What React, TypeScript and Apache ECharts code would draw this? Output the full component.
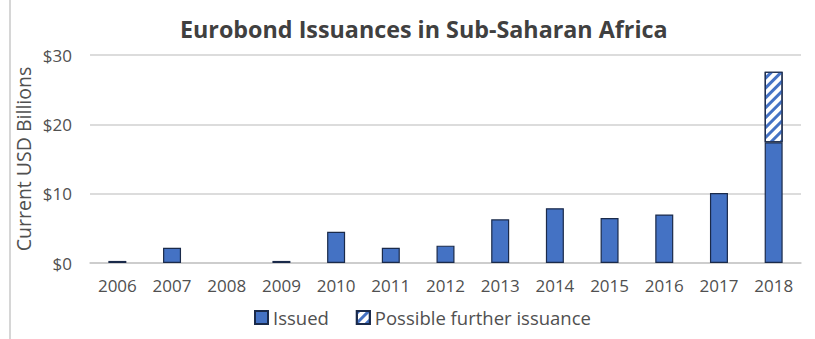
import React, { useEffect, useRef } from "react";
import * as echarts from "echarts";

const years = ["2006","2007","2008","2009","2010","2011","2012","2013","2014","2015","2016","2017","2018"];
const issued = [0.3, 2.2, null, 0.3, 4.5, 2.2, 2.5, 6.3, 7.9, 6.5, 7.0, 10.1, 17.4];
const further = [null, null, null, null, null, null, null, null, null, null, null, null, 10.2];
const yTicks = [0, 10, 20, 30];

export default function App() {
  const ref = useRef<HTMLDivElement>(null);
  useEffect(() => {
    const chart = echarts.init(ref.current!, null, { renderer: "svg" });
    const font = "'Open Sans', sans-serif";
    chart.setOption({
      animation: false,
      backgroundColor: "#fff",
      title: {
        text: "Eurobond Issuances in Sub-Saharan Africa",
        left: 180,
        top: 17,
        padding: 0,
        textStyle: { fontFamily: font, fontSize: 23.3, fontWeight: "bold", color: "#404040" },
      },
      graphic: [
        { type: "line", shape: { x1: 10, y1: 0, x2: 10, y2: 339 }, style: { stroke: "#c8c8c8", lineWidth: 1.5 } },
      ],
      legend: {
        bottom: 7,
        left: 249,
        itemWidth: 13,
        itemHeight: 13,
        itemGap: 27,
        icon: "rect",
        textStyle: { fontFamily: font, fontSize: 18.5, color: "#505050" },
        data: ["Issued", "Possible further issuance"],
      },
      grid: { left: 90, right: 14, top: 55, bottom: 76 },
      xAxis: {
        type: "category",
        data: years,
        axisTick: { show: false },
        axisLine: { lineStyle: { color: "#c8c8c8", width: 1.5 } },
        axisLabel: { fontFamily: font, fontSize: 17, color: "#505050", margin: 14 },
      },
      yAxis: {
        type: "value",
        min: 0,
        max: 30,
        interval: 10,
        name: "Current USD Billions",
        nameLocation: "middle",
        nameGap: 57,
        nameMoveOverlap: false,
        nameTextStyle: { fontFamily: font, fontSize: 19.5, color: "#505050" },
        axisLabel: {
          fontFamily: font,
          fontSize: 17,
          color: "#505050",
          margin: 18,
          formatter: (v: number) => (yTicks.includes(v) ? "$" + v : ""),
        },
        splitLine: { lineStyle: { color: "#d0d0d0", width: 1.5 } },
      },
      series: [
        {
          name: "Issued",
          type: "bar",
          stack: "total",
          barWidth: 18,
          data: issued,
          itemStyle: { color: "#4472c4", borderColor: "#1a2a4a", borderWidth: 1.2 },
        },
        {
          name: "Possible further issuance",
          type: "bar",
          stack: "total",
          barWidth: 18,
          data: further,
          itemStyle: {
            color: "#ffffff",
            borderColor: "#1a2a4a",
            borderWidth: 1.2,
            decal: {
              symbol: "rect",
              symbolSize: 1,
              color: "#4472c4",
              backgroundColor: "#ffffff",
              dashArrayX: [1, 0],
              dashArrayY: [3, 4],
              rotation: -Math.PI / 4,
            },
          },
        },
      ],
    });
    return () => chart.dispose();
  }, []);
  return <div ref={ref} style={{ width: 815, height: 339, position: "absolute", left: 0, top: 0 }} />;
}
